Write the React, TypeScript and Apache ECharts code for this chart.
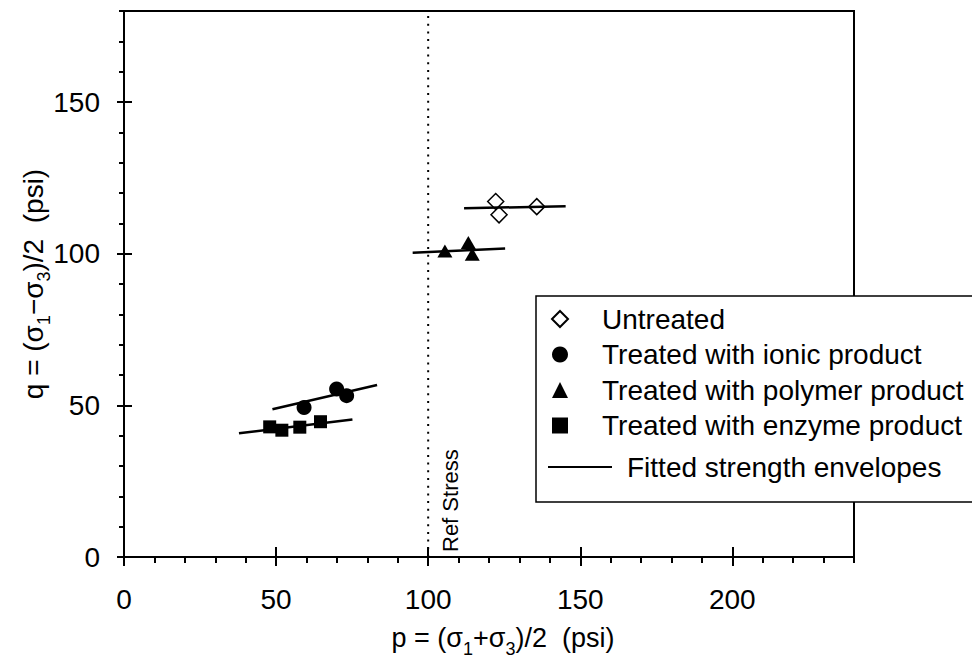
import React, { useEffect, useRef } from "react";
import * as echarts from "echarts";

const FONT = "'Liberation Sans', Arial, Helvetica, sans-serif";

// Axis ranges and ticks
const xMin = 0;
const xMax = 240;
const yMin = 0;
const yMax = 180;
const xMajorTicks = [0, 50, 100, 150, 200];
const yMajorTicks = [0, 50, 100, 150];
const minorStep = 10;

// Reference stress (p)
const refStress = 100;

// Data points [p, q]
const untreated = [
  [122.2, 117.2],
  [123.3, 112.8],
  [135.7, 115.5],
];
const ionic = [
  [59.2, 49.3],
  [69.9, 55.4],
  [73.2, 53.2],
];
const polymer = [
  [105.5, 100.9],
  [113.2, 103.7],
  [114.5, 99.8],
];
const enzyme = [
  [47.9, 42.9],
  [51.9, 41.8],
  [57.8, 42.8],
  [64.6, 44.6],
];

// Fitted strength envelopes (end points)
const fitUntreated = [
  [111.8, 115.0],
  [145.2, 115.6],
];
const fitIonic = [
  [48.8, 48.7],
  [83.2, 56.7],
];
const fitPolymer = [
  [94.9, 100.3],
  [125.3, 101.7],
];
const fitEnzyme = [
  [37.8, 40.8],
  [75.1, 45.3],
];

const NAMES = [
  "Untreated",
  "Treated with ionic product",
  "Treated with polymer product",
  "Treated with enzyme product",
];
const FIT_NAME = "Fitted strength envelopes";

function range(a: number, b: number, step: number) {
  const out: number[] = [];
  for (let v = a; v <= b + 1e-9; v += step) out.push(v);
  return out;
}

export default function App() {
  const ref = useRef<HTMLDivElement>(null);

  useEffect(() => {
    if (!ref.current) return;
    const chart = echarts.init(ref.current, null, { renderer: "svg" });
    const xMinor = range(xMin, xMax, minorStep);
    const yMinor = range(yMin, yMax, minorStep);
    const tickLine = { color: "#000", width: 2 };
    const baseX = {
      type: "value",
      min: xMin,
      max: xMax,
      position: "bottom",
      splitLine: { show: false },
    };
    const baseY = {
      type: "value",
      min: yMin,
      max: yMax,
      position: "left",
      splitLine: { show: false },
    };
    const makeRich = (size: number) => ({
      m: { fontSize: size, lineHeight: 40, fontFamily: FONT, color: "#000" },
      s: {
        fontSize: 18,
        lineHeight: 18,
        verticalAlign: "bottom",
        fontFamily: FONT,
        color: "#000",
      },
    });

    const fitSeries = [fitUntreated, fitIonic, fitPolymer, fitEnzyme].map((d) => ({
      type: "line",
      name: FIT_NAME,
      data: d,
      symbol: "none",
      silent: true,
      lineStyle: { color: "#000", width: 2.5, opacity: 1 },
      itemStyle: { color: "#000", opacity: 1 },
    }));

    const markerStyle = { color: "#000", opacity: 1 };

    chart.setOption({
      animation: false,
      textStyle: { fontFamily: FONT },
      grid: {
        left: 124,
        top: 11,
        width: 730,
        height: 547,
        show: true,
        borderColor: "#000",
        borderWidth: 2,
        backgroundColor: "transparent",
      },
      xAxis: [
        {
          ...baseX,
          axisLine: { show: true, onZero: false, lineStyle: tickLine },
          axisTick: {
            show: true,
            inside: false,
            length: 6,
            lineStyle: tickLine,
            customValues: xMinor,
          },
          axisLabel: {
            customValues: xMajorTicks,
            fontSize: 28,
            color: "#000",
            margin: 28,
            fontFamily: FONT,
          },
          name: "{m|p = (σ}{s|1}{m|+σ}{s|3}{m|)/2  (psi)}",
          nameLocation: "middle",
          nameGap: 61,
          nameMoveOverlap: false,
          nameTextStyle: { rich: makeRich(27), padding: [0, 0, 0, 28] },
        },
        {
          ...baseX,
          axisLine: { show: false, onZero: false },
          axisTick: {
            show: true,
            inside: false,
            length: 9,
            lineStyle: tickLine,
            customValues: xMajorTicks,
          },
          axisLabel: { show: false },
        },
        {
          ...baseX,
          axisLine: { show: false, onZero: false },
          axisTick: {
            show: true,
            inside: true,
            length: 10,
            lineStyle: tickLine,
            customValues: xMajorTicks,
          },
          axisLabel: { show: false },
        },
      ],
      yAxis: [
        {
          ...baseY,
          axisLine: { show: true, onZero: false, lineStyle: tickLine },
          axisTick: {
            show: true,
            inside: false,
            length: 5,
            lineStyle: tickLine,
            customValues: yMinor,
          },
          axisLabel: {
            customValues: yMajorTicks,
            fontSize: 28,
            color: "#000",
            margin: 24,
            fontFamily: FONT,
          },
          name: "{m|q = (σ}{s|1}{m|−σ}{s|3}{m|)/2  (psi)}",
          nameLocation: "middle",
          nameGap: 71,
          nameRotate: 90,
          nameMoveOverlap: false,
          nameTextStyle: { rich: makeRich(28) },
        },
        {
          ...baseY,
          axisLine: { show: false, onZero: false },
          axisTick: {
            show: true,
            inside: false,
            length: 7,
            lineStyle: tickLine,
            customValues: yMajorTicks,
          },
          axisLabel: { show: false },
        },
        {
          ...baseY,
          axisLine: { show: false, onZero: false },
          axisTick: {
            show: true,
            inside: true,
            length: 8,
            lineStyle: tickLine,
            customValues: yMajorTicks,
          },
          axisLabel: { show: false },
        },
      ],
      legend: [
        {
          data: NAMES,
          orient: "vertical",
          left: 551,
          top: 305,
          padding: 0,
          itemGap: 7.5,
          itemWidth: 16,
          itemHeight: 16,
          selectedMode: false,
          z: 10,
          textStyle: {
            fontSize: 28,
            lineHeight: 28,
            color: "#000",
            fontFamily: FONT,
            padding: [0, 0, 0, 29],
          },
        },
        {
          data: [{ name: FIT_NAME, icon: "rect" }],
          orient: "vertical",
          left: 548,
          top: 453,
          padding: 0,
          itemWidth: 64,
          itemHeight: 2,
          selectedMode: false,
          z: 10,
          itemStyle: { color: "#000", opacity: 1 },
          textStyle: {
            fontSize: 28,
            lineHeight: 28,
            color: "#000",
            fontFamily: FONT,
            padding: [0, 0, 0, 10],
          },
        },
      ],
      graphic: [
        {
          type: "rect",
          z: 8,
          shape: { x: 536, y: 296, width: 450, height: 206 },
          style: { fill: "#fff", stroke: "#000", lineWidth: 1.5 },
        },
        {
          type: "text",
          z: 9,
          x: 450,
          y: 552,
          rotation: Math.PI / 2,
          style: {
            text: "Ref Stress",
            fontSize: 22,
            fontFamily: FONT,
            fill: "#000",
            align: "left",
            verticalAlign: "middle",
          },
        },
      ],
      series: [
        {
          type: "line",
          name: "Ref Stress",
          data: [
            [refStress, yMin],
            [refStress, yMax],
          ],
          symbol: "none",
          silent: true,
          lineStyle: { color: "#000", width: 2, type: [2, 5.7], opacity: 1 },
        },
        ...fitSeries,
        {
          type: "scatter",
          name: NAMES[0],
          data: untreated,
          symbol: "diamond",
          symbolSize: [16, 16],
          itemStyle: { color: "#fff", borderColor: "#000", borderWidth: 1.5, opacity: 1 },
        },
        {
          type: "scatter",
          name: NAMES[1],
          data: ionic,
          symbol: "circle",
          symbolSize: 15,
          itemStyle: markerStyle,
        },
        {
          type: "scatter",
          name: NAMES[2],
          data: polymer,
          symbol: "triangle",
          symbolSize: [15, 13],
          itemStyle: markerStyle,
        },
        {
          type: "scatter",
          name: NAMES[3],
          data: enzyme,
          symbol: "rect",
          symbolSize: 13,
          itemStyle: markerStyle,
        },
      ],
    });
    return () => chart.dispose();
  }, []);

  return (
    <div
      ref={ref}
      style={{
        position: "absolute",
        left: 0,
        top: 0,
        width: 972,
        height: 663,
        background: "#fff",
      }}
    />
  );
}
